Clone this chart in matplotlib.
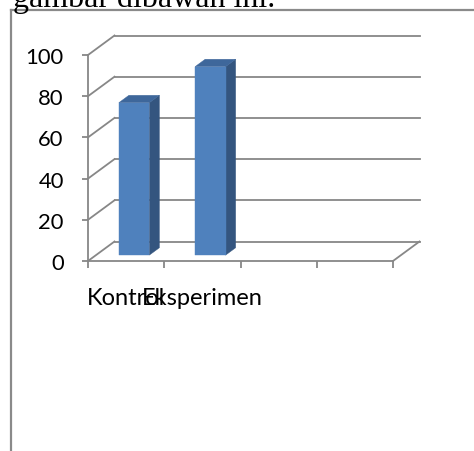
import matplotlib
matplotlib.use("Agg")
import matplotlib.pyplot as plt
from matplotlib.patches import Polygon
from matplotlib.lines import Line2D

# ---- data ----
categories = ["Kontrol", "Eksperimen", "", ""]
values = [74, 91.5]
yticks = [0, 20, 40, 60, 80, 100]
header_text = "gambar dibawah ini."

# ---- style ----
W, H, DPI = 474, 452, 100
GRID = "#878787"
FRONT = "#4F81BD"
SIDE = "#34557F"
TOP = "#3E679B"
FONT = "Lato"

fig = plt.figure(figsize=(W / DPI, H / DPI), dpi=DPI)
fig.patch.set_facecolor("white")

# front plane of the pseudo-3D chart
left_px, right_px, top_px, bottom_px = 88, 393, 56, 262
ax = fig.add_axes([left_px / W, 1 - bottom_px / H,
                   (right_px - left_px) / W, (bottom_px - top_px) / H])
n = len(categories)
ax.set_xlim(0, n)
ax.set_ylim(0, 100)
ax.set_facecolor("none")

# depth offset (in data units) for the back wall
px_x = (right_px - left_px) / n
px_y = (bottom_px - top_px) / 100
DX = 26.5 / px_x
DY = 19.5 / px_y

def P(x, y, d):
    return (x + d * DX, y + d * DY)

lw = 1.3
# back wall gridlines and left wall diagonals
for t in yticks:
    ax.add_line(Line2D([P(0, t, 1)[0], P(n, t, 1)[0]], [P(0, t, 1)[1], P(n, t, 1)[1]],
                       color=GRID, lw=lw, clip_on=False, zorder=1))
    ax.add_line(Line2D([0, P(0, t, 1)[0]], [t, P(0, t, 1)[1]],
                       color=GRID, lw=lw, clip_on=False, zorder=1))
# floor right edge
ax.add_line(Line2D([n, P(n, 0, 1)[0]], [0, P(n, 0, 1)[1]],
                   color=GRID, lw=lw, clip_on=False, zorder=1))

# bars
d0, d1 = 0.3, 0.68
bw = 0.4
for i, v in enumerate(values):
    x0 = i + 0.5 - bw / 2
    x1 = i + 0.5 + bw / 2
    front = [P(x0, 0, d0), P(x1, 0, d0), P(x1, v, d0), P(x0, v, d0)]
    side = [P(x1, 0, d0), P(x1, 0, d1), P(x1, v, d1), P(x1, v, d0)]
    top = [P(x0, v, d0), P(x1, v, d0), P(x1, v, d1), P(x0, v, d1)]
    for pts, c in ((side, SIDE), (top, TOP), (front, FRONT)):
        ax.add_patch(Polygon(pts, closed=True, facecolor=c, edgecolor=c,
                             lw=0.3, clip_on=False, zorder=3))

# axes
for s in ("top", "right"):
    ax.spines[s].set_visible(False)
for s in ("left", "bottom"):
    ax.spines[s].set_color(GRID)
    ax.spines[s].set_linewidth(lw)
    ax.spines[s].set_zorder(2)

ax.set_yticks(yticks)
ax.set_yticklabels([str(t) for t in yticks], fontfamily=FONT, fontsize=15.8)
ax.tick_params(axis="y", length=4.5, width=lw, color=GRID, pad=13, labelcolor="black")

ax.set_xticks([i + 0.5 for i in range(n)])
ax.set_xticklabels(categories, fontfamily=FONT, fontsize=17)
ax.set_xticks(range(n + 1), minor=True)
ax.tick_params(axis="x", which="major", length=0, pad=19, labelcolor="black")
ax.tick_params(axis="x", which="minor", length=5, width=lw, color=GRID)

# page frame and header text
fig.add_artist(Line2D([11 / W, 11 / W], [0, 1 - 11 / H], transform=fig.transFigure,
                      color="#8a8a8a", lw=1.6))
fig.add_artist(Line2D([11 / W, 1], [1 - 11 / H, 1 - 11 / H], transform=fig.transFigure,
                      color="#8a8a8a", lw=1.6))
fig.text(13 / W, 1 - 7 / H, header_text, fontfamily="Liberation Serif", fontsize=23,
         va="baseline", ha="left", color="black")

fig.savefig("out.png", dpi=DPI, facecolor="white")
